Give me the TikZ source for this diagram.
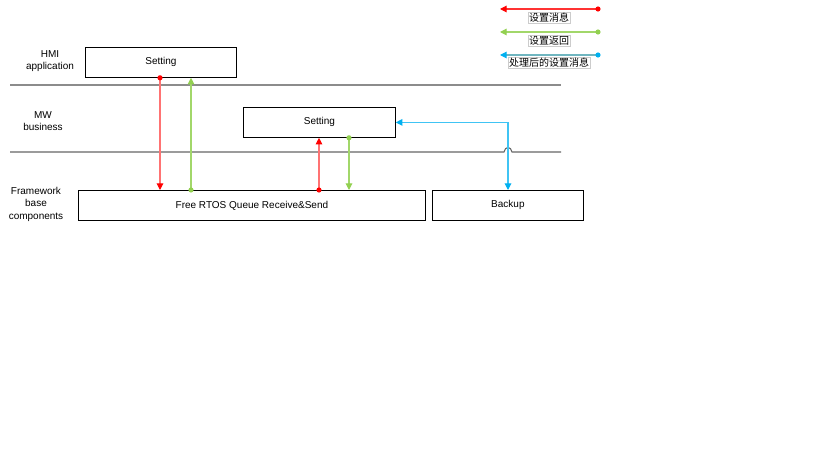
\documentclass[tikz,border=0pt]{standalone}
\usepackage{fontspec}
\setmainfont{Liberation Sans}
\newfontfamily\cjk{Noto Sans CJK SC}
\usetikzlibrary{arrows.meta,calc}
\definecolor{msgred}{HTML}{FF0000}
\definecolor{retgreen}{HTML}{92D050}
\definecolor{procblue}{HTML}{00B0F0}

\begin{document}
\begin{tikzpicture}[x=0.75pt,y=-0.75pt,font=\fontsize{7.5}{9}\selectfont]
		\tikzstyle{every node}+=[inner sep=0pt]
		\tikzstyle{block}=[draw=black,line width=0.6pt,minimum height=22.5pt,anchor=north west]
		\tikzstyle{layer}=[align=center,font=\fontsize{7.5}{9.4}\selectfont]
		\tikzstyle{sep}=[draw=black!60,line width=0.8pt]
		\tikzstyle{legtext}=[draw=black!20,inner sep=0.6pt,font=\cjk\fontsize{7.5}{9}\selectfont]
		\tikzstyle{setmsg}=[draw=msgred!55,line width=0.8pt,-{Triangle[length=5pt,width=5pt,color=msgred]}]
		\tikzstyle{setret}=[draw=retgreen!85,line width=0.8pt,-{Triangle[length=5pt,width=5pt,color=retgreen]}]
		\tikzstyle{procmsg}=[draw=procblue!75,line width=0.8pt,-{Triangle[length=5pt,width=5pt,color=procblue]}]
		\useasboundingbox (0,0) rectangle (819,460);
		% layer labels
		\node [layer] (hmilbl) at (50,61) {HMI\\application};
		\node [layer] (mwlbl) at (43,121) {MW\\business};
		\node [layer] (fwlbl) at (36,204) {Framework\\base\\components};
		% separators
		\draw [sep,draw=black!45] (10,85) -- (561,85);
		\draw [sep] (10,152) -- (504,152) .. controls (505,146) and (511,146) .. (512,152) -- (561,152);
		% blocks
		\node [block,minimum width=113.25pt] (hmiset) at (85,47) {};
		\node at (hmiset.center) {Setting};
		\node [block,minimum width=114pt] (mwset) at (243,107) {};
		\node at (mwset.center) {Setting};
		\node [block,minimum width=260.25pt] (rtos) at (78,190) {};
		\node at (rtos.center) {Free RTOS Queue Receive\&Send};
		\node [block,minimum width=113.25pt] (backup) at (432,190) {};
		\node at (backup.center) {Backup};
		% connectors
		\coordinate (r1) at (160,0);
		\coordinate (g1) at (191,0);
		\coordinate (r2) at (319,0);
		\coordinate (g2) at (349,0);
		\coordinate (b1) at (508,0);
		\draw [setmsg] (hmiset.south -| r1) -- (rtos.north -| r1);
		\draw [setret] (rtos.north -| g1) -- (hmiset.south -| g1);
		\draw [setmsg] (rtos.north -| r2) -- (mwset.south -| r2);
		\draw [setret] (mwset.south -| g2) -- (rtos.north -| g2);
		\draw [procmsg,{Triangle[length=5pt,width=5pt,color=procblue]}-{Triangle[length=5pt,width=5pt,color=procblue]}] (mwset.east) -- (mwset.east -| b1) -- (backup.north -| b1);
		\fill [msgred] (hmiset.south -| r1) circle (2.6);
		\fill [retgreen] (rtos.north -| g1) circle (2.6);
		\fill [msgred] (rtos.north -| r2) circle (2.6);
		\fill [retgreen] (mwset.south -| g2) circle (2.6);
		% legend
		\coordinate (lr1) at (598,9);
		\coordinate (lr0) at (500,9);
		\coordinate (lg1) at (598,32);
		\coordinate (lg0) at (500,32);
		\coordinate (lb1) at (598,55);
		\coordinate (lb0) at (500,55);
		\draw [setmsg,draw=msgred!80] (lr1) -- (lr0);
		\draw [setret] (lg1) -- (lg0);
		\draw [procmsg,draw=procblue!45!cyan!40!gray!80] (lb1) -- (lb0);
		\fill [msgred] (lr1) circle (2.6);
		\fill [retgreen] (lg1) circle (2.6);
		\fill [procblue] (lb1) circle (2.6);
		\node [legtext] (legred) at (549,18) {设置消息};
		\node [legtext] (leggreen) at (549,40.5) {设置返回};
		\node [legtext] (legblue) at (549,63) {处理后的设置消息};
\end{tikzpicture}
\end{document}
